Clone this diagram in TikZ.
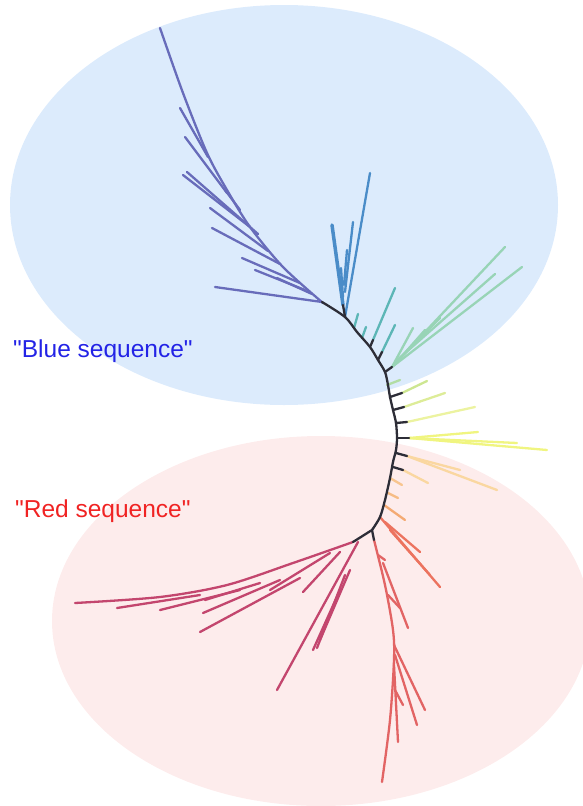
\documentclass[tikz,border=0pt]{standalone}
\usepackage{fontspec}
\newfontfamily\lblfont{Liberation Sans}
\definecolor{bgblue}{RGB}{220,235,252}
\definecolor{bgred}{RGB}{253,236,236}
\definecolor{txtblue}{RGB}{35,35,230}
\definecolor{txtred}{RGB}{240,35,35}
\definecolor{trunk}{RGB}{45,45,55}
\definecolor{cpurple}{RGB}{104,108,186}
\definecolor{cblue}{RGB}{74,140,200}
\definecolor{cteal}{RGB}{92,182,182}
\definecolor{cmint}{RGB}{152,212,182}
\definecolor{clime}{RGB}{205,230,145}
\definecolor{cyellow}{RGB}{236,243,160}
\definecolor{cpeach}{RGB}{250,215,160}
\definecolor{corange}{RGB}{244,170,115}
\definecolor{credorange}{RGB}{236,115,95}
\definecolor{cred}{RGB}{226,100,100}
\definecolor{cmagenta}{RGB}{195,70,110}

\begin{document}
\begin{tikzpicture}[x=1pt,y=-1pt,
    leaf/.style={line width=2.3pt,line cap=round},
    lbl/.style={anchor=west,inner sep=0pt,font=\lblfont\fontsize{24.5}{28}\selectfont}]
    \useasboundingbox (0,0) rectangle (582,806);
    \fill[bgblue] (284,205) ellipse [x radius=274, y radius=200];
    \fill[bgred] (321,621) ellipse [x radius=269, y radius=185];

    % purple clade
    \draw[leaf,cpurple] plot[smooth] coordinates {(160,28) (183,93) (207,153) (227,190) (250,227) (283,267) (323,303)};
    \foreach \xa/\ya/\xb/\yb in {180/108/208/157, 185/137/227/193, 183/175/250/227, 187/172/258/234,
        210/208/268/251, 212/228/280/264, 242/258/300/283, 277/278/312/294, 215/287/322/302,
        225/190/240/210, 255/270/305/290}
        \draw[leaf,cpurple] (\xa,\ya) -- (\xb,\yb);

    % blue clade
    \foreach \xa/\ya/\xb/\yb in {345/317/370/173, 345/292/353/222, 344/285/347/250, 343/297/341/268}
        \draw[leaf,cblue] (\xa,\ya) -- (\xb,\yb);
    \draw[leaf,cblue,line width=3.5pt] (343,305) -- (332,225);

    % teal and mint
    \foreach \xa/\ya/\xb/\yb in {354/328/358/314, 362/338/366/327, 373/340/395/288, 382/352/395/325}
        \draw[leaf,cteal] (\xa,\ya) -- (\xb,\yb);
    \foreach \xa/\ya/\xb/\yb in {392/367/505/247, 392/367/522/267, 395/362/495/274, 392/367/413/328,
        395/364/425/330, 400/358/440/318}
        \draw[leaf,cmint] (\xa,\ya) -- (\xb,\yb);

    % yellow and orange leaves
    \draw[leaf,cmint!50!clime] (387,385) -- (400,380);
    \draw[leaf,clime] (402,393) -- (427,381);
    \draw[leaf,clime!50!cyellow] (404,407) -- (445,393);
    \draw[leaf,cyellow] (407,422) -- (475,407);
    \foreach \xa/\ya/\xb/\yb in {409/438/478/432, 409/438/547/450, 409/438/517/443}
        \draw[leaf,cyellow!80!yellow] (\xa,\ya) -- (\xb,\yb);
    \foreach \xa/\ya/\xb/\yb in {407/456/497/490, 407/456/460/470, 403/470/428/483}
        \draw[leaf,cpeach] (\xa,\ya) -- (\xb,\yb);
    \draw[leaf,cpeach!60!corange] (390,478) -- (402,485);
    \draw[leaf,cpeach!40!corange] (388,493) -- (398,498);
    \draw[leaf,corange] (384,505) -- (405,520);

    % red-orange clade
    \foreach \xa/\ya/\xb/\yb in {380/517/440/587, 385/522/420/552, 390/530/430/575}
        \draw[leaf,credorange] (\xa,\ya) -- (\xb,\yb);

    % lower red clade
    \draw[leaf,cred] plot[smooth] coordinates {(374,540) (385,585) (393,630) (394,660) (390,720) (382,782)};
    \foreach \xa/\ya/\xb/\yb in {383/563/408/628, 388/595/400/608, 394/645/425/710, 395/655/417/725,
        394/665/398/742, 395/690/403/705, 378/555/385/560}
        \draw[leaf,cred] (\xa,\ya) -- (\xb,\yb);

    % magenta clade
    \draw[leaf,cmagenta] plot[smooth] coordinates {(353,542) (293,563) (227,585) (160,597) (75,603)};
    \foreach \xa/\ya/\xb/\yb in {117/608/200/595, 160/610/240/590, 200/632/300/578, 203/613/280/580,
        270/590/330/553, 303/592/340/552, 358/542/277/690, 317/648/345/575, 320/640/350/570, 313/650/340/590,
        205/600/260/583}
        \draw[leaf,cmagenta] (\xa,\ya) -- (\xb,\yb);

    % backbone
    \draw[leaf,trunk] plot[smooth] coordinates {(322,302) (345,317) (357,332) (370,347) (378,360) (385,372)
        (388,385) (390,397) (393,410) (396,423) (397,438) (396,450) (393,462) (390,478) (385,500) (380,517) (372,530)};
    \draw[leaf,trunk] (372,530) -- (353,542);
    \draw[leaf,trunk] (372,530) -- (374,540);
    \foreach \xa/\ya/\xb/\yb in {345/317/343/305, 370/347/373/340, 378/360/382/352, 385/372/392/367,
        390/397/402/393, 393/410/404/407, 396/423/407/422, 397/438/409/438, 396/453/407/456, 393/467/403/470}
        \draw[leaf,trunk] (\xa,\ya) -- (\xb,\yb);

    \node[lbl,text=txtblue] (bluelabel) at (13,351) {"Blue sequence"};
    \node[lbl,text=txtred] (redlabel) at (15,511) {"Red sequence"};
\end{tikzpicture}
\end{document}
